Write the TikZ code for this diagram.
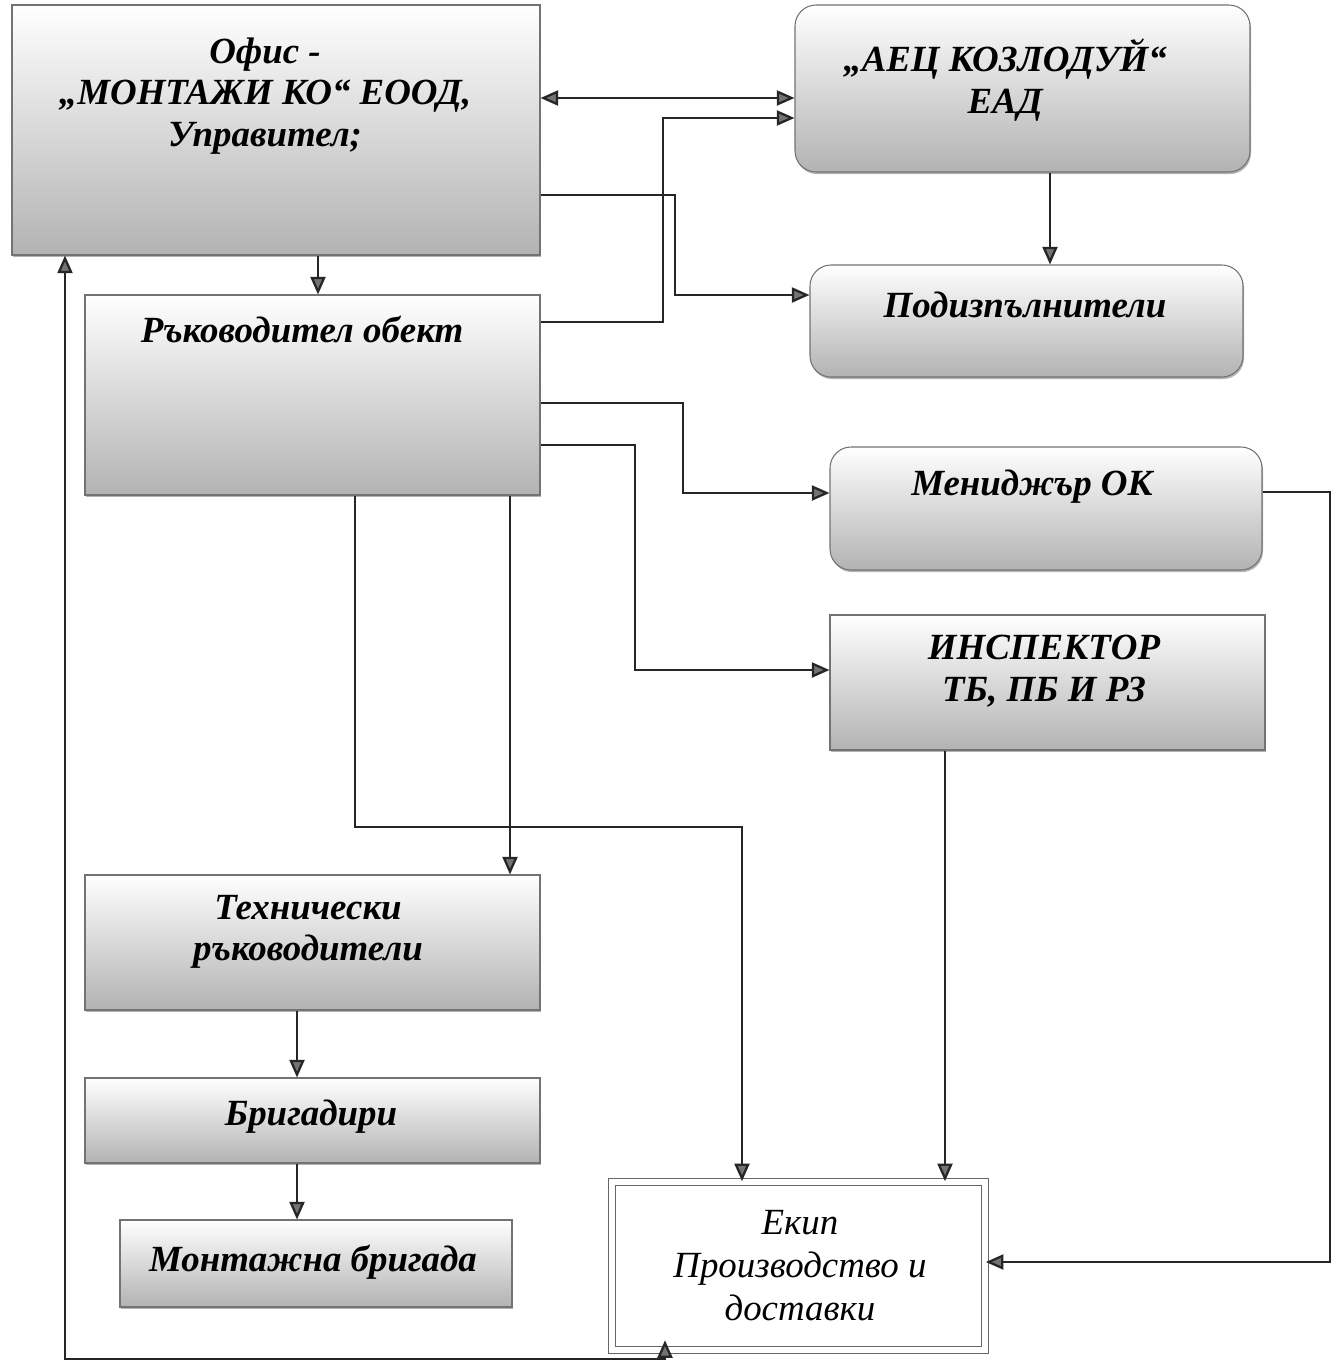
\documentclass[tikz,border=0pt]{standalone}
\usepackage{fontspec}
\setmainfont{Liberation Serif}
\usetikzlibrary{arrows.meta,fit,shadows}

\tikzset{
  kutia/.style={draw=black!55, line width=0.6pt, top color=white, middle color=black!4,
    bottom color=black!30, inner sep=0pt,
    drop shadow={shadow xshift=0.6pt, shadow yshift=-1.2pt, opacity=0.6}},
  oblakutia/.style={kutia, rounded corners=12pt},
  ekipkutia/.style={draw=black!60, line width=0.9pt, double=white, double distance=3pt,
    fill=white, inner sep=0pt},
  nadpis/.style={font=\fontsize{21}{23.5}\selectfont\bfseries\itshape, align=center, inner sep=0pt},
  vruzka/.style={draw=black!85, line width=1.3pt, -{Triangle[length=10pt,width=8.5pt,fill=black!55]}},
  dvoina/.style={vruzka, {Triangle[length=10pt,width=8.5pt,fill=black!55]}-{Triangle[length=10pt,width=8.5pt,fill=black!55]}},
}

\begin{document}
\begin{tikzpicture}[x=0.02cm, y=-0.02cm]
  \useasboundingbox (0,0) rectangle (1343,1363);
  % Кутии
  \node[kutia, fit={(12,5) (540,255)}] (ofis) {};
  \node[oblakutia, fit={(795,5) (1250,172)}] (aec) {};
  \node[oblakutia, fit={(810,265) (1243,377)}] (pod) {};
  \node[kutia, fit={(85,295) (540,495)}] (ruk) {};
  \node[oblakutia, fit={(830,447) (1262,570)}] (men) {};
  \node[kutia, fit={(830,615) (1265,750)}] (insp) {};
  \node[kutia, fit={(85,875) (540,1010)}] (teh) {};
  \node[kutia, fit={(85,1078) (540,1163)}] (brig) {};
  \node[kutia, fit={(120,1220) (512,1307)}] (mont) {};
  \node[ekipkutia, fit={(612,1182) (985,1350)}] (ekip) {};
  % Надписи
  \node[nadpis] (ofist) at (265,96) {Офис -\\„МОНТАЖИ КО“ ЕООД,\\Управител;};
  \node[nadpis] (aect) at (1005,80) {„АЕЦ КОЗЛОДУЙ“\\ЕАД};
  \node[nadpis] (podt) at (1025,305) {Подизпълнители};
  \node[nadpis] (rukt) at (302,330) {Ръководител обект};
  \node[nadpis] (ment) at (1032,487) {Мениджър ОК};
  \node[nadpis] (inspt) at (1044,671) {ИНСПЕКТОР\\ТБ, ПБ И РЗ};
  \node[nadpis] (teht) at (308,932) {Технически\\ръководители};
  \node[nadpis] (brigt) at (311,1117) {Бригадири};
  \node[nadpis] (montt) at (313,1262) {Монтажна бригада};
  \node[nadpis, font=\fontsize{21}{24.5}\selectfont\itshape] (ekipt) at (800,1266)
    {Екип\\Производство и\\доставки};
  % Връзки
  \draw[dvoina] (ofis.east |- 0,98) -- (aec.west |- 0,98);
  \draw[vruzka] (ofis.east |- 0,195) -| (675,295) -- (pod.west |- 0,295);
  \draw[vruzka] (ruk.east |- 0,322) -| (663,118) -- (aec.west |- 0,118);
  \draw[vruzka] (aec.south -| 1050,0) -- (pod.north -| 1050,0);
  \draw[vruzka] (ofis.south -| 318,0) -- (ruk.north -| 318,0);
  \draw[vruzka] (ruk.east |- 0,403) -| (683,493) -- (men.west |- 0,493);
  \draw[vruzka] (ruk.east |- 0,445) -| (635,670) -- (insp.west |- 0,670);
  \draw[vruzka] (ruk.south -| 355,0) |- (742,827) -- (ekip.north -| 742,0);
  \draw[vruzka] (ruk.south -| 510,0) -- (teh.north -| 510,0);
  \draw[vruzka] (teh.south -| 297,0) -- (brig.north -| 297,0);
  \draw[vruzka] (brig.south -| 297,0) -- (mont.north -| 297,0);
  \draw[vruzka] (insp.south -| 945,0) -- (ekip.north -| 945,0);
  \draw[vruzka] (men.east |- 0,492) -| (1330,1262) -- (ekip.east |- 0,1262);
  \draw[dvoina] (ofis.south -| 65,0) |- (665,1359) -- ([yshift=6pt]ekip.south -| 665,0);
\end{tikzpicture}
\end{document}
